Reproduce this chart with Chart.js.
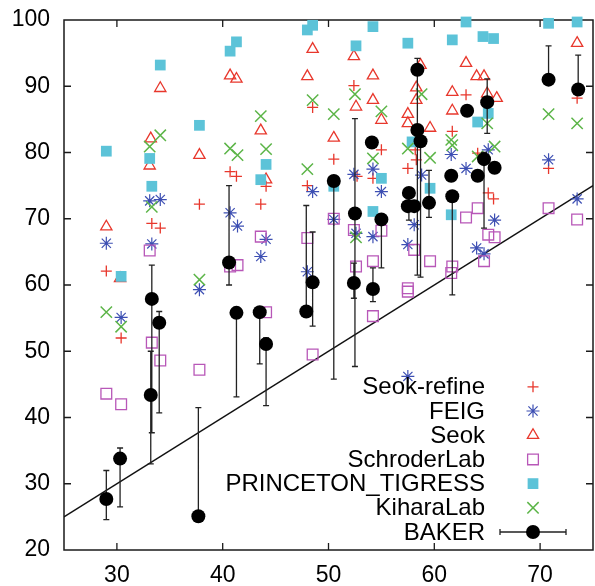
<!DOCTYPE html>
<html>
<head>
<meta charset="utf-8">
<script src="https://cdn.jsdelivr.net/npm/chart.js@4/dist/chart.umd.min.js"></script>
<style>
  html, body { margin: 0; padding: 0; background: #fff; }
  canvas { display: block; }
</style>
</head>
<body>
<canvas id="chart" width="595" height="586"></canvas>
<script>
// tick values
const xTicks = [30, 40, 50, 60, 70];
const yTicks = [20, 30, 40, 50, 60, 70, 80, 90, 100];
const refLine = [25, 75]; // y = x diagonal

// [x, y] pairs per group
const seokRefine = [[29.0,62.1],[30.4,52.0],[33.3,69.3],[34.1,68.6],[37.8,72.2],[40.7,77.1],[41.3,76.4],[43.6,72.2],[44.1,74.9],[48.0,75.0],[48.5,86.8],[50.5,79.0],[52.4,90.1],[52.7,76.4],[54.2,76.1],[55.0,80.4],[57.5,77.6],[58.2,80.4],[58.3,78.9],[61.7,83.2],[63.0,88.7],[64.1,79.9],[65.1,73.9],[65.6,73.0],[70.8,77.6],[73.5,88.2]];
const feig = [[29.0,66.3],[30.4,55.1],[33.1,72.7],[33.3,66.2],[34.1,72.9],[37.8,59.3],[40.7,70.9],[41.4,68.9],[43.6,64.3],[44.1,66.9],[48.0,62.0],[48.5,74.1],[50.5,69.9],[52.4,76.7],[52.6,67.8],[54.2,77.5],[54.2,67.3],[55.0,74.1],[57.5,66.1],[57.5,46.2],[58.1,69.1],[58.8,76.6],[61.6,79.7],[63.0,77.6],[64.0,65.6],[64.7,64.7],[65.1,80.4],[65.7,69.8],[70.8,78.9],[73.5,73.0]];
const seok = [[29.0,68.8],[30.3,61.0],[33.2,82.1],[33.1,78.0],[34.1,89.7],[37.8,79.6],[40.7,91.6],[41.3,91.1],[43.6,83.3],[44.1,75.9],[48.0,91.5],[48.5,95.6],[50.5,82.2],[52.4,94.5],[52.6,86.9],[54.2,91.6],[54.2,87.9],[55.0,84.9],[57.5,85.8],[57.5,84.4],[58.3,89.8],[58.3,87.9],[58.7,93.2],[59.6,83.7],[61.7,89.1],[61.7,86.3],[63.0,93.5],[64.0,91.5],[64.7,91.5],[65.0,88.9],[65.9,88.2],[73.5,96.5]];
const schroder = [[29.0,43.6],[30.4,42.0],[33.1,65.2],[33.3,51.3],[34.1,48.6],[37.8,47.2],[40.7,62.8],[41.4,63.0],[43.6,67.3],[44.1,55.9],[48.0,67.1],[48.5,49.5],[50.5,70.0],[52.4,68.3],[52.6,62.8],[54.2,63.6],[54.2,55.3],[55.0,68.2],[57.5,59.5],[57.5,59.0],[58.1,65.3],[59.6,63.6],[61.7,62.8],[61.6,61.8],[63.0,70.2],[64.1,71.6],[64.7,63.6],[65.1,67.6],[65.7,67.2],[70.8,71.6],[73.5,69.9]];
const princeton = [[29.0,80.2],[30.4,61.3],[33.1,79.1],[33.3,74.9],[34.1,93.2],[37.8,84.1],[40.7,95.3],[41.3,96.7],[43.6,75.9],[44.1,78.2],[48.0,98.5],[48.5,99.2],[50.5,74.9],[52.6,96.1],[54.2,99.0],[54.2,71.1],[55.0,76.1],[57.5,96.5],[57.9,81.6],[58.0,72.0],[59.6,74.6],[61.7,97.0],[61.6,70.6],[63.0,99.7],[64.1,84.6],[64.6,97.5],[65.1,85.9],[65.6,97.2],[70.8,99.5],[73.5,99.7]];
const kihara = [[29.0,55.9],[30.4,53.7],[33.1,80.9],[33.3,71.8],[34.1,82.6],[37.8,60.8],[40.7,80.6],[41.4,79.6],[43.6,85.5],[44.1,80.5],[48.0,77.5],[48.5,87.9],[50.5,85.8],[52.5,88.8],[52.6,67.2],[54.2,79.1],[55.0,86.2],[57.5,80.6],[58.8,88.8],[59.6,79.2],[61.6,81.9],[61.7,81.1],[64.1,79.4],[65.0,84.4],[65.7,80.9],[70.8,85.8],[73.5,84.4]];

// BAKER with error bars
const bakerX    = [29.0,30.3,33.2,33.3,34.0,37.7,40.6,41.3,43.5,44.1,47.9,48.5,50.5,52.5,52.4,54.1,54.2,55.0,58.4,58.4,58.7,57.6,57.5,58.1,59.5,61.6,61.7,63.1,64.1,64.7,65.0,65.7,70.8,73.6];
const bakerY    = [27.7,33.8,43.4,57.9,54.3,25.1,63.4,55.8,55.9,51.1,56.0,60.4,75.7,70.8,60.3,81.5,59.4,69.9,92.5,83.4,81.7,73.9,71.9,71.9,72.4,76.5,73.4,86.3,76.5,79.0,87.6,77.7,91.0,89.5];
const bakerLow  = [24.6,26.5,33.0,37.7,40.7,25.1,60.0,43.1,48.1,41.8,56.0,53.8,45.8,47.7,58.0,81.5,57.5,62.6,61.5,83.4,61.2,69.8,71.9,71.9,70.2,76.5,58.5,86.3,76.5,68.6,82.9,77.7,91.0,89.5];
const bakerHigh = [32.0,35.4,50.0,63.0,56.0,41.5,75.0,56.0,56.0,52.0,72.0,68.0,76.5,85.1,63.3,81.5,62.6,70.5,94.2,83.4,82.5,74.5,71.9,71.9,77.3,76.5,74.0,86.3,76.5,80.0,91.1,77.7,96.1,94.7];

const toPts = arr => arr.map(p => ({ x: p[0], y: p[1] }));

function groupSet(label, pts, style, radius, color, fill, width, order) {
  return {
    label, data: toPts(pts), pointStyle: style, pointRadius: radius, pointHoverRadius: radius,
    borderColor: color, backgroundColor: fill, borderWidth: width, pointBorderWidth: width,
    showLine: false, clip: false, order
  };
}

const datasets = [
  groupSet('Seok-refine', seokRefine, 'cross', 5.5, '#e8372c', '#e8372c', 1.3, 7),
  groupSet('FEIG', feig, 'star', 6.5, '#3d4fb3', '#3d4fb3', 1.2, 6),
  groupSet('Seok', seok, 'triangle', 6.5, '#e8372c', 'rgba(0,0,0,0)', 1.3, 5),
  groupSet('SchroderLab', schroder, 'rect', 7.6, '#b857b8', 'rgba(0,0,0,0)', 1.3, 4),
  groupSet('PRINCETON_TIGRESS', princeton, 'rect', 7.6, '#5cc3d8', '#5cc3d8', 0, 3),
  groupSet('KiharaLab', kihara, 'crossRot', 8, '#5cb548', '#5cb548', 1.5, 2),
  {
    label: 'BAKER', data: bakerX.map((x, i) => ({ x, y: bakerY[i] })),
    pointStyle: 'circle', pointRadius: 7, pointHoverRadius: 7,
    backgroundColor: '#000', borderColor: '#000', borderWidth: 0,
    showLine: false, clip: false, order: 1
  },
  {
    label: 'diag', data: refLine.map(v => ({ x: v, y: v })),
    showLine: true, borderColor: '#111', borderWidth: 1.3, pointRadius: 0, order: 8
  }
];

// inward ticks + frame, like the gnuplot box
const frame = {
  id: 'frame',
  beforeDatasetsDraw(chart) {
    const { ctx, chartArea: a, scales: { x, y } } = chart;
    ctx.save();
    ctx.strokeStyle = '#1a1a1a';
    ctx.lineWidth = 1.5;
    ctx.strokeRect(a.left, a.top, a.right - a.left, a.bottom - a.top);
    ctx.lineWidth = 1.3;
    ctx.beginPath();
    xTicks.forEach(v => {
      const px = x.getPixelForValue(v);
      ctx.moveTo(px, a.bottom); ctx.lineTo(px, a.bottom - 7);
      ctx.moveTo(px, a.top); ctx.lineTo(px, a.top + 7);
    });
    yTicks.slice(1, -1).forEach(v => {
      const py = y.getPixelForValue(v);
      ctx.moveTo(a.left, py); ctx.lineTo(a.left + 7, py);
      ctx.moveTo(a.right, py); ctx.lineTo(a.right - 7, py);
    });
    ctx.stroke();
    ctx.restore();
  }
};

function drawBar(ctx, x, yLo, yHi) {
  ctx.moveTo(x, yLo); ctx.lineTo(x, yHi);
  ctx.moveTo(x - 3, yLo); ctx.lineTo(x + 3, yLo);
  ctx.moveTo(x - 3, yHi); ctx.lineTo(x + 3, yHi);
}

const errorBars = {
  id: 'errorBars',
  beforeDatasetDraw(chart, args) {
    if (chart.data.datasets[args.index].label !== 'BAKER') return;
    const { ctx, scales: { x, y } } = chart;
    ctx.save();
    ctx.strokeStyle = '#222';
    ctx.lineWidth = 1.3;
    ctx.beginPath();
    bakerX.forEach((v, i) => {
      if (bakerHigh[i] - bakerLow[i] < 0.5) return;
      drawBar(ctx, x.getPixelForValue(v), y.getPixelForValue(bakerLow[i]), y.getPixelForValue(bakerHigh[i]));
    });
    ctx.stroke();
    ctx.restore();
  }
};

const insideLegend = {
  id: 'insideLegend',
  afterDraw(chart) {
    const { ctx, chartArea: a } = chart;
    const textRight = a.right - 108;
    const markX = a.right - 60;
    const rowH = 24.2;
    const sets = chart.data.datasets.filter(d => d.label !== 'diag');
    let y0 = a.bottom - 18 - (sets.length - 1) * rowH;
    ctx.save();
    ctx.font = '24px "Liberation Sans", Arial, sans-serif';
    ctx.textAlign = 'right';
    ctx.textBaseline = 'middle';
    sets.forEach((d, i) => {
      const y = y0 + i * rowH;
      ctx.fillStyle = '#000';
      ctx.fillText(d.label, textRight, y + 1);
      if (d.label === 'BAKER') {
        ctx.strokeStyle = '#222';
        ctx.lineWidth = 1.3;
        ctx.beginPath();
        ctx.moveTo(markX - 33, y); ctx.lineTo(markX + 33, y);
        ctx.moveTo(markX - 33, y - 3); ctx.lineTo(markX - 33, y + 3);
        ctx.moveTo(markX + 33, y - 3); ctx.lineTo(markX + 33, y + 3);
        ctx.stroke();
      }
      ctx.strokeStyle = d.borderColor;
      ctx.fillStyle = d.backgroundColor;
      ctx.lineWidth = d.borderWidth;
      Chart.helpers.drawPoint(ctx, { pointStyle: d.pointStyle, radius: d.pointRadius, rotation: 0, borderWidth: d.borderWidth }, markX, y);
    });
    ctx.restore();
  }
};

const tickFont = { family: '"Liberation Sans", Arial, sans-serif', size: 23 };

function noPad(s) {
  s.paddingLeft = 0; s.paddingRight = 0; s.paddingTop = 0; s.paddingBottom = 0;
}

new Chart(document.getElementById('chart'), {
  type: 'scatter',
  data: { datasets },
  options: {
    responsive: false,
    animation: false,
    events: [],
    layout: { autoPadding: false, padding: { top: 20, right: 2, left: 0, bottom: 0 } },
    plugins: { legend: { display: false }, tooltip: { enabled: false } },
    scales: {
      x: {
        type: 'linear', min: 25, max: 75,
        grid: { display: false, drawTicks: false },
        border: { display: false },
        ticks: { font: tickFont, color: '#000', padding: 12 },
        afterBuildTicks: s => { s.ticks = xTicks.map(v => ({ value: v })); },
        afterFit: s => { s.height = 36; noPad(s); }
      },
      y: {
        type: 'linear', min: 20, max: 100,
        grid: { display: false, drawTicks: false },
        border: { display: false },
        ticks: { font: tickFont, color: '#000', padding: 14 },
        afterBuildTicks: s => { s.ticks = yTicks.map(v => ({ value: v })); },
        afterFit: s => { s.width = 64; noPad(s); }
      }
    }
  },
  plugins: [frame, errorBars, insideLegend]
});
</script>
</body>
</html>
